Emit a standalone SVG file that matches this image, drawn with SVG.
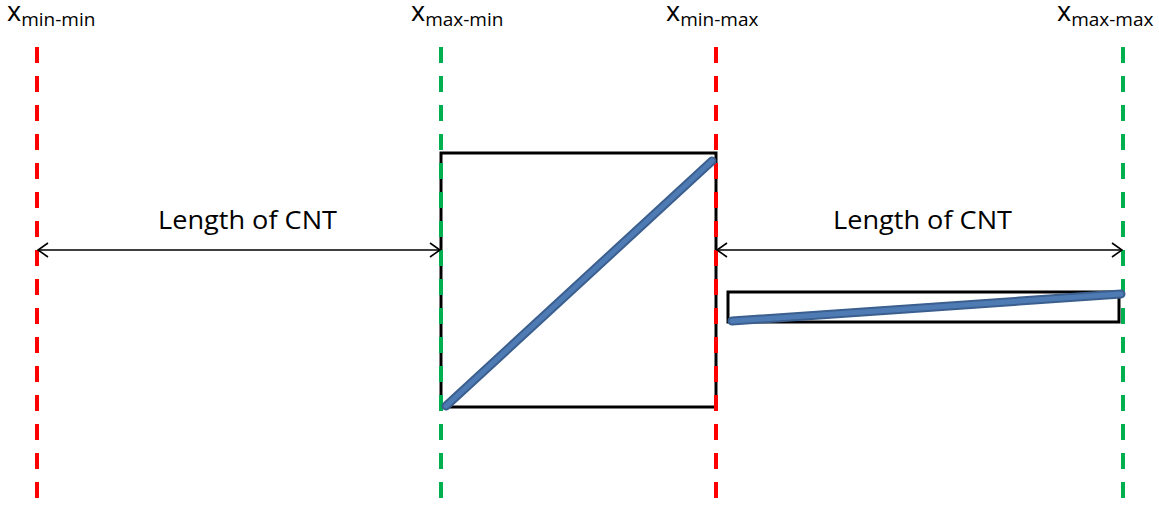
<svg xmlns="http://www.w3.org/2000/svg" width="1159" height="510" viewBox="0 0 1159 510">
<defs>
<style>
.lbl{font-family:"Open Sans","Liberation Sans",sans-serif;fill:#000}
.x{font-size:27px}
.sub{font-size:19px}
.len{font-family:"Open Sans","Liberation Sans",sans-serif;font-size:26px;fill:#000}
.box{fill:none;stroke:#000;stroke-width:3}
.red{stroke:#ff0000;stroke-width:4;stroke-dasharray:16 13;fill:none}
.green{stroke:#00b050;stroke-width:4;stroke-dasharray:16 13;fill:none}
.cnt{stroke:#3b5f8e;stroke-width:9;stroke-linecap:round;fill:none}
.cnti{stroke:#4f7bb5;stroke-width:5;stroke-linecap:round;fill:none}
.dim{stroke:#000;stroke-width:1.5;fill:none}
</style>
<marker id="ah" viewBox="0 0 12 16" refX="11" refY="8" markerWidth="12" markerHeight="16" markerUnits="userSpaceOnUse" orient="auto-start-reverse">
<path d="M1,1 L11,8 L1,15" fill="none" stroke="#000" stroke-width="1.6"/>
</marker>
</defs>
<g id="box1"><rect class="box" x="441" y="153" width="275" height="254"/></g>
<g id="box2"><rect class="box" x="728" y="292" width="391" height="30"/></g>
<g id="guides">
<line id="g1" class="red" x1="37" y1="47" x2="37" y2="510"/>
<line id="g2" class="green" x1="441" y1="47" x2="441" y2="510"/>
<line id="g3" class="red" x1="716" y1="47" x2="716" y2="510"/>
<line id="g4" class="green" x1="1123" y1="47" x2="1123" y2="510"/>
</g>
<g id="cnt1"><line class="cnt" x1="446" y1="406" x2="712" y2="161"/><line class="cnti" x1="446" y1="406" x2="712" y2="161"/></g>
<g id="cnt2"><line class="cnt" x1="732" y1="321" x2="1121" y2="294"/><line class="cnti" x1="732" y1="321" x2="1121" y2="294"/></g>
<g id="connectors">
<line class="dim" x1="38" y1="250" x2="440" y2="250" marker-start="url(#ah)" marker-end="url(#ah)"/>
<line class="dim" x1="717" y1="250" x2="1122" y2="250" marker-start="url(#ah)" marker-end="url(#ah)"/>
</g>
<g id="labels">
<text class="len" x="158" y="229" textLength="179" lengthAdjust="spacingAndGlyphs">Length of CNT</text>
<text class="len" x="833" y="229" textLength="179" lengthAdjust="spacingAndGlyphs">Length of CNT</text>
<text class="lbl" x="7" y="21"><tspan class="x">x</tspan><tspan class="sub" dy="5">min-min</tspan></text>
<text class="lbl" x="411" y="21"><tspan class="x">x</tspan><tspan class="sub" dy="5">max-min</tspan></text>
<text class="lbl" x="666" y="21"><tspan class="x">x</tspan><tspan class="sub" dy="5">min-max</tspan></text>
<text class="lbl" x="1057" y="21"><tspan class="x">x</tspan><tspan class="sub" dy="5">max-max</tspan></text>
</g>
</svg>
